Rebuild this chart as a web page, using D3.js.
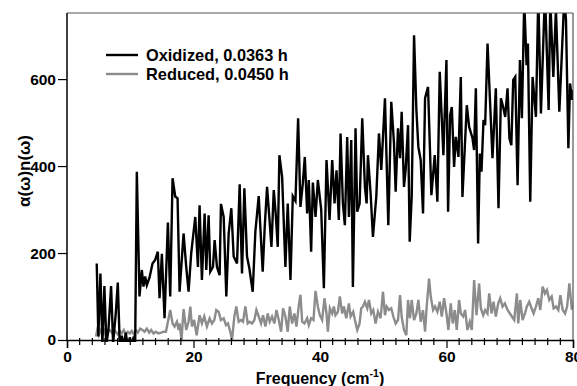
<!DOCTYPE html>
<html><head><meta charset="utf-8">
<script src="https://cdn.jsdelivr.net/npm/d3@7"></script>
<style>
html,body{margin:0;padding:0;background:#fff;}
svg text{font-family:"Liberation Sans",Arial,sans-serif;}
</style></head>
<body><svg id="c" width="577" height="386"></svg>
<script>
// ---- data ----
const xTicks = [0, 20, 40, 60, 80];
const xMinorTicks = [2,4,6,8,10,12,14,16,18,22,24,26,28,30,32,34,36,38,42,44,46,48,50,52,54,56,58,62,64,66,68,70,72,74,76,78];
const yTicks = [0, 200, 400, 600];
const seriesNames = ["Oxidized, 0.0363 h", "Reduced, 0.0450 h"];

const oxidizedFreq = [4.70,4.96,5.28,5.60,5.91,6.23,6.55,6.97,7.29,7.71,8.03,8.34,8.66,8.98,9.29,9.61,9.93,10.24,10.56,10.78,
11.04,11.46,11.83,12.09,12.36,12.62,13.05,13.52,13.94,14.36,14.63,15.00,15.42,15.95,16.32,16.69,17.11,17.48,17.80,
18.43,18.85,19.22,19.64,20.28,20.70,20.96,21.33,21.76,22.02,22.39,22.65,23.08,23.34,23.71,24.13,24.34,24.77,25.19,25.56,
25.98,26.35,26.88,27.30,27.67,28.04,28.46,28.83,29.36,29.78,30.31,30.94,31.26,31.63,32.00,32.32,32.69,33.00,33.32,33.58,
34.01,34.53,34.90,35.33,35.70,36.12,36.54,36.91,37.28,37.60,37.97,38.23,38.60,38.87,39.29,39.66,40.19,40.61,41.03,41.51,
41.93,42.30,42.61,42.98,43.25,43.62,43.93,44.30,44.57,44.94,45.20,45.62,45.89,46.26,46.68,47.10,47.37,47.58,48.00,48.37,
48.90,49.32,49.69,50.27,50.80,51.27,51.70,51.96,52.33,52.65,52.91,53.28,53.54,53.92,54.18,54.50,54.87,55.24,55.55,55.92,
56.29,56.61,57.08,57.61,58.14,58.56,58.93,59.51,59.99,60.25,60.57,60.84,61.20,61.47,61.89,62.26,62.52,63.21,63.58,64.11,
64.36,64.64,65.00,65.27,65.53,65.85,66.11,66.49,67.27,67.80,68.22,68.60,68.96,69.28,69.65,69.95,70.25,70.55,70.87,71.24,
71.61,71.92,72.29,72.66,72.87,73.24,73.61,74.14,74.51,74.93,75.57,76.15,76.41,76.89,77.30,77.84,78.63,78.89,79.27,79.53,
79.85,80.00];
const oxidizedValue = [176,8,153,-8,124,-8,23,124,-8,61,132,-10,10,-15,17,-15,6,-12,8,-5,
387,100,161,123,146,126,144,176,184,203,96,198,50,270,100,372,330,326,111,
245,168,111,200,283,168,310,138,291,161,287,157,168,230,168,149,313,283,100,245,
303,192,176,358,153,349,192,165,111,249,331,157,260,352,280,214,345,290,214,425,
375,168,314,138,331,320,510,306,360,421,291,368,203,362,283,368,300,119,414,276,
414,314,390,276,475,314,264,467,283,460,122,487,295,314,510,352,314,425,337,237,
330,475,391,556,264,548,452,341,487,418,525,352,391,494,226,330,701,529,444,414,
291,556,582,333,425,318,617,425,644,295,517,536,398,467,421,605,329,540,490,464,
437,579,222,429,387,506,494,682,418,579,303,556,536,513,579,464,448,598,605,356,
644,510,780,632,682,318,605,513,790,521,800,529,780,605,760,525,790,736,441,590,
552,575];

const reducedFreq = [4.59,4.88,5.07,5.39,5.70,6.02,6.18,6.45,6.76,7.08,7.40,7.71,8.03,8.34,8.66,8.98,9.29,9.61,9.93,10.24,
10.56,10.88,11.20,11.57,11.94,12.25,12.62,12.99,13.31,13.68,14.05,14.47,14.89,15.27,15.64,15.90,16.32,16.69,17.01,17.38,
17.64,17.80,18.10,18.43,18.85,19.22,19.50,19.75,20.10,20.50,20.96,21.33,21.70,22.12,22.55,22.92,23.29,23.60,23.97,24.34,
24.77,25.14,25.45,25.82,26.09,26.46,26.77,27.14,27.51,27.83,28.20,28.57,28.88,29.25,29.62,29.94,30.31,30.68,31.00,31.37,
31.74,32.05,32.42,32.79,33.11,33.48,33.85,34.16,34.53,34.90,35.22,35.59,35.96,36.28,36.65,36.91,37.18,37.54,37.97,38.23,
38.60,38.97,39.29,39.66,39.97,40.34,40.71,41.03,41.24,41.56,41.93,42.19,42.45,42.83,43.14,43.51,43.78,44.15,44.57,44.84,
45.25,45.52,45.89,46.26,46.52,46.79,47.10,47.47,47.74,48.11,48.42,48.79,49.16,49.58,49.96,50.27,50.54,50.90,51.27,51.59,
51.96,52.33,52.65,52.91,53.28,53.65,53.92,54.23,54.50,54.87,55.24,55.55,55.92,56.29,56.61,56.87,57.24,57.51,57.88,58.19,
58.56,58.93,59.25,59.62,59.99,60.30,60.67,60.99,61.31,61.62,61.99,62.26,62.63,62.94,63.31,63.68,64.00,64.37,64.74,65.16,
65.43,65.80,66.11,66.48,66.75,67.12,67.43,67.80,68.17,68.49,68.86,69.23,69.65,70.02,70.34,70.71,71.13,71.34,71.66,72.03,
72.40,72.71,73.08,73.45,73.77,74.14,74.51,74.83,75.20,75.57,75.88,76.25,76.63,76.94,77.31,77.68,78.00,78.37,78.75,79.07,
79.43,79.80,80.00];
const reducedValue = [8,31,12,23,15,26,-8,19,23,17,25,19,13,21,15,23,13,19,15,21,
13,23,17,26,23,19,26,17,23,15,19,15,17,19,19,38,69,38,31,42,
23,38,0,71,23,42,77,31,46,11,57,38,54,31,50,38,46,69,65,46,
50,34,38,19,0,54,77,42,46,42,77,38,42,38,46,69,54,38,57,31,
61,42,54,38,69,46,19,73,54,19,77,38,61,31,80,104,42,38,50,34,
50,46,113,77,57,46,96,61,19,73,61,77,57,65,100,61,77,50,84,54,
65,46,23,38,73,77,88,73,92,61,69,38,65,50,111,57,77,69,73,54,
38,46,103,54,23,11,92,50,92,46,61,92,42,69,19,77,141,100,69,77,
65,88,54,96,61,23,84,38,69,23,92,61,54,69,23,42,23,138,57,130,
73,57,69,61,107,61,88,54,84,96,77,84,69,61,54,46,107,38,92,46,
61,77,88,73,61,77,96,69,123,107,115,92,100,73,77,69,103,69,61,77,
130,73,75];

// ---- chart ----
const W = 577, H = 386;
const m = {left: 67, right: 4, top: 13, bottom: 46};
const svg = d3.select("#c");
const x = d3.scaleLinear().domain([0, 80]).range([m.left, W - m.right]);
const y = d3.scaleLinear().domain([0, 752]).range([H - m.bottom, m.top]);
const font = '"Liberation Sans",Arial,sans-serif';

// scale a text's font size so that it spans a given width
function fitWidth(sel, target) {
  sel.each(function () {
    const fs = parseFloat(this.getAttribute("font-size"));
    const w = this.getComputedTextLength();
    if (w > 0) this.setAttribute("font-size", (fs * target / w).toFixed(2));
  });
}

svg.append("defs").append("clipPath").attr("id", "clip")
  .append("rect").attr("x", x(0)).attr("y", y(752))
  .attr("width", x(80) - x(0)).attr("height", y(0) - y(752) + 2);

const ox = oxidizedFreq.map((f, i) => [f, oxidizedValue[i]]);
const red = reducedFreq.map((f, i) => [f, reducedValue[i]]);
const line = d3.line().x(d => x(d[0])).y(d => y(d[1]));

const g = svg.append("g").attr("clip-path", "url(#clip)");
g.append("path").datum(red).attr("d", line).attr("fill", "none")
  .attr("stroke", "#8c8c8c").attr("stroke-width", 2.4).attr("stroke-linejoin", "miter");
g.append("path").datum(ox).attr("d", line).attr("fill", "none")
  .attr("stroke", "#000").attr("stroke-width", 2.4).attr("stroke-linejoin", "miter");

// frame (top & right)
svg.append("line").attr("x1", x(0)).attr("x2", x(80)).attr("y1", y(752)).attr("y2", y(752))
  .attr("stroke", "#555").attr("stroke-width", 1);
svg.append("line").attr("x1", x(80)).attr("x2", x(80)).attr("y1", y(752)).attr("y2", y(0))
  .attr("stroke", "#333").attr("stroke-width", 1);

// x axis
const xa = svg.append("g").attr("transform", `translate(0,${y(0)})`)
  .call(d3.axisBottom(x).tickValues(xTicks).tickSize(8).tickPadding(3).tickFormat(d3.format("d")));
xa.select(".domain").attr("stroke", "#000").attr("stroke-width", 1.5);
xa.selectAll(".tick line").attr("stroke", "#000").attr("stroke-width", 1.2);
xa.selectAll(".tick text").attr("font-family", font).attr("font-size", 15.5).attr("font-weight", "bold").attr("fill", "#000");
xa.selectAll(".minor").data(xMinorTicks).enter().append("line")
  .attr("x1", d => x(d)).attr("x2", d => x(d)).attr("y1", -2).attr("y2", 5)
  .attr("stroke", "#000").attr("stroke-width", 1.2);

// y axis
const ya = svg.append("g").attr("transform", `translate(${x(0)},0)`)
  .call(d3.axisLeft(y).tickValues(yTicks).tickSize(9).tickPadding(2).tickFormat(d3.format("d")));
ya.select(".domain").attr("stroke", "#000").attr("stroke-width", 1.5)
  .attr("d", `M0,${y(752)}V${y(0)}`);
ya.selectAll(".tick line").attr("stroke", "#000").attr("stroke-width", 1.2);
ya.selectAll(".tick text").attr("font-family", font).attr("font-size", 15.5).attr("font-weight", "bold").attr("fill", "#000");

// axis titles
const xt = svg.append("text").attr("x", 320).attr("y", 384).attr("text-anchor", "middle")
  .attr("font-family", font).attr("font-size", 16).attr("font-weight", "bold").attr("fill", "#000");
xt.append("tspan").text("Frequency (cm");
xt.append("tspan").attr("font-size", 10.5).attr("dy", -7).text("-1");
xt.append("tspan").attr("dy", 7).text(")");

const yl = svg.append("text").attr("transform", "translate(30,171) rotate(-90)").attr("text-anchor", "middle")
  .attr("font-family", font).attr("font-size", 18).attr("font-weight", "bold").attr("fill", "#000")
  .text("α(ω)n(ω)");
fitWidth(yl, 72);

// legend
const legColors = ["#000", "#8c8c8c"];
const leg = svg.append("g");
seriesNames.forEach((s, i) => {
  const yy = 55 + i * 19;
  leg.append("line").attr("x1", 106).attr("x2", 138).attr("y1", yy).attr("y2", yy)
    .attr("stroke", legColors[i]).attr("stroke-width", 2.4);
  leg.append("text").attr("x", 146).attr("y", yy + 6)
    .attr("font-family", font).attr("font-size", 16).attr("font-weight", "bold").attr("fill", "#000").text(s);
});
fitWidth(leg.selectAll("text").filter((d, i) => i === 0), 142);
const legFs = leg.select("text").attr("font-size");
leg.selectAll("text").attr("font-size", legFs);
</script></body></html>
